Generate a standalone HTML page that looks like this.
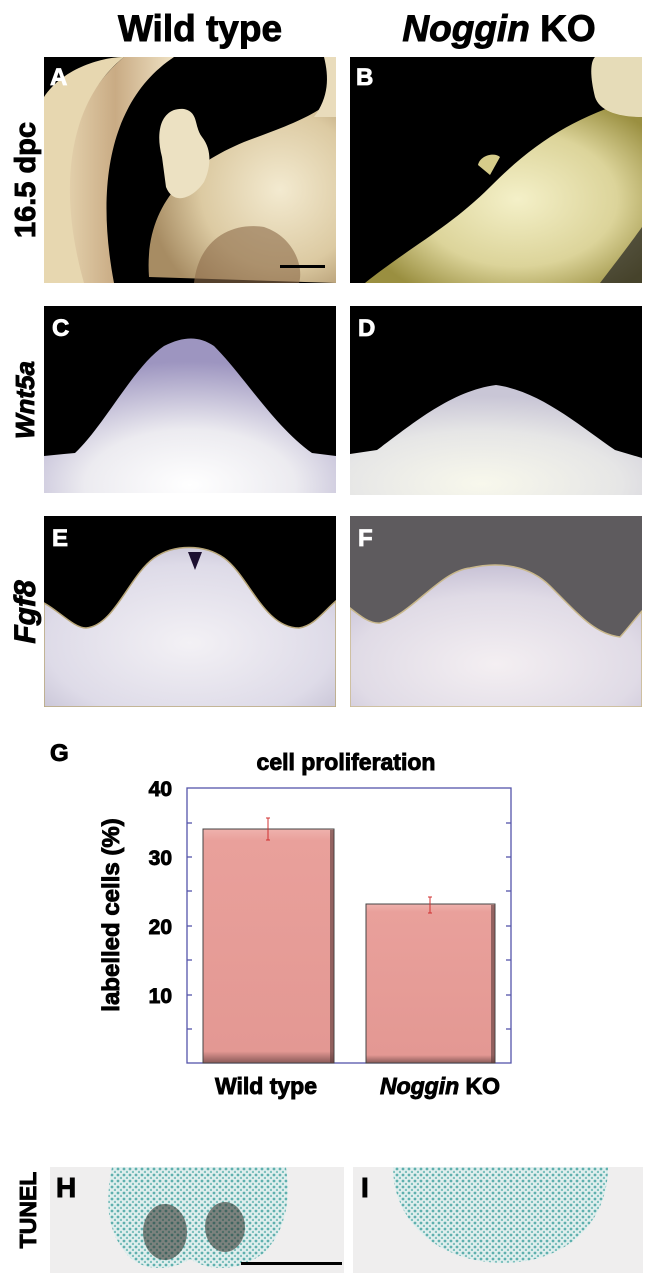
<!DOCTYPE html>
<html><head><meta charset="utf-8"><style>
html,body{margin:0;padding:0;background:#fff;}
svg{display:block;}
text{font-family:"Liberation Sans",Arial,sans-serif;font-weight:bold;}
.hv{stroke:#000;stroke-width:0.9;}
.hw{stroke:#fff;stroke-width:0.8;}
</style></head><body>
<svg width="649" height="1280" viewBox="0 0 649 1280" xmlns="http://www.w3.org/2000/svg">
<defs>
<radialGradient id="gA" cx="0.7" cy="0.5" r="0.7"><stop offset="0" stop-color="#f3ead0"/><stop offset="0.6" stop-color="#dccaa2"/><stop offset="1" stop-color="#a78c63"/></radialGradient>
<linearGradient id="band" x1="0" y1="0" x2="1" y2="0"><stop offset="0" stop-color="#e9d9b5"/><stop offset="0.5" stop-color="#c9ab84"/><stop offset="1" stop-color="#efe2c4"/></linearGradient>
<radialGradient id="gB" cx="0.55" cy="0.55" r="0.6"><stop offset="0" stop-color="#f4f0c8"/><stop offset="0.6" stop-color="#dcd49a"/><stop offset="1" stop-color="#9a8f40"/></radialGradient>
<radialGradient id="gC" cx="0.5" cy="0.95" r="0.8"><stop offset="0" stop-color="#ffffff"/><stop offset="0.45" stop-color="#ecebf0"/><stop offset="1" stop-color="#9d95c0"/></radialGradient>
<radialGradient id="gD" cx="0.45" cy="0.9" r="0.8"><stop offset="0" stop-color="#f8f8ec"/><stop offset="0.6" stop-color="#e6e6e6"/><stop offset="1" stop-color="#c9c6d6"/></radialGradient>
<radialGradient id="gE" cx="0.5" cy="0.6" r="0.7"><stop offset="0" stop-color="#f3f1f5"/><stop offset="0.7" stop-color="#dedbe8"/><stop offset="1" stop-color="#c3bfd2"/></radialGradient>
<radialGradient id="gF" cx="0.5" cy="0.7" r="0.7"><stop offset="0" stop-color="#f4eff2"/><stop offset="0.7" stop-color="#e0dbe6"/><stop offset="1" stop-color="#c8c2d6"/></radialGradient>
<linearGradient id="bar" x1="0" y1="0" x2="0" y2="1"><stop offset="0" stop-color="#efb2ad"/><stop offset="0.05" stop-color="#e9a09b"/><stop offset="0.95" stop-color="#e39893"/><stop offset="1" stop-color="#8a5a58"/></linearGradient>
<pattern id="cells" width="6" height="6" patternUnits="userSpaceOnUse"><rect width="6" height="6" fill="#dfeeed"/><circle cx="2" cy="2" r="1.4" fill="#5fb0ae"/><circle cx="5" cy="5" r="1.2" fill="#7cc0bd"/></pattern>
</defs>

<text class="hv" x="200" y="41" font-size="37" text-anchor="middle">Wild type</text>
<text class="hv" x="499" y="41" font-size="37" text-anchor="middle"><tspan font-style="italic">Noggin</tspan> KO</text>
<text class="hv" transform="translate(35,180) rotate(-90)" font-size="29" text-anchor="middle">16.5 dpc</text>
<text class="hv" transform="translate(34,400) rotate(-90)" font-size="26" font-style="italic" text-anchor="middle">Wnt5a</text>
<text class="hv" transform="translate(35,612) rotate(-90)" font-size="30" font-style="italic" text-anchor="middle">Fgf8</text>
<text class="hv" transform="translate(36,1210) rotate(-90)" font-size="23" text-anchor="middle">TUNEL</text>

<svg x="44" y="57" width="292" height="226" viewBox="0 0 292 226">
<rect width="292" height="226" fill="#000"/>
<path d="M80 0 L130 0 C70 40 50 120 70 226 L20 226 C0 150 20 50 80 0Z" fill="url(#band)"/>
<path d="M0 40 C20 10 60 0 80 0 C30 40 10 120 40 226 L0 226Z" fill="#e7d7b0"/>
<path d="M105 220 C100 150 140 110 200 85 C240 70 270 60 292 40 L292 226 Z" fill="url(#gA)"/>
<path d="M280 0 L292 0 L292 60 L270 60 C285 40 285 20 280 0Z" fill="#e9dcbc"/>
<path d="M118 100 C110 70 120 50 140 52 C155 55 150 70 158 80 C170 95 165 115 160 125 C150 140 130 150 122 130 Z" fill="#ece1c2"/>
<path d="M150 226 C155 180 190 165 220 170 C250 180 260 210 255 226Z" fill="#8c6b4a" opacity="0.6"/>
<rect x="236" y="208" width="45" height="3" fill="#000"/>
<text class="hw" x="6" y="28" font-size="24" fill="#fff">A</text>
</svg>

<svg x="350" y="57" width="292" height="226" viewBox="0 0 292 226">
<rect width="292" height="226" fill="#000"/>
<path d="M15 226 C60 190 100 170 140 130 C180 90 220 60 292 40 L292 226Z" fill="url(#gB)"/>
<path d="M245 0 L292 0 L292 60 C270 60 250 55 245 40 C240 20 240 5 245 0Z" fill="#e6dcb8"/>
<path d="M128 108 C130 98 145 95 150 100 L140 118 Z" fill="#d6cc8a"/>
<path d="M250 226 C270 200 285 180 292 170 L292 226Z" fill="#222" opacity="0.7"/>
<text class="hw" x="6" y="28" font-size="24" fill="#fff">B</text>
</svg>

<svg x="44" y="306" width="292" height="187" viewBox="0 0 292 187">
<rect width="292" height="187" fill="#000"/>
<path d="M0 187 L0 150 L20 148 L31 147 C60 120 90 60 120 40 C140 30 155 30 170 40 C200 70 230 120 268 147 L292 150 L292 187Z" fill="url(#gC)"/>
<text class="hw" x="8" y="30" font-size="24" fill="#fff">C</text>
</svg>

<svg x="350" y="306" width="292" height="189" viewBox="0 0 292 189">
<rect width="292" height="189" fill="#000"/>
<path d="M0 189 L0 148 L27 144 C60 120 100 85 146 79 C190 85 230 120 265 144 L292 152 L292 189Z" fill="url(#gD)"/>
<text class="hw" x="8" y="30" font-size="24" fill="#fff">D</text>
</svg>

<svg x="44" y="516" width="292" height="191" viewBox="0 0 292 191">
<rect width="292" height="191" fill="#000"/>
<path d="M0 191 L0 87 C15 95 30 112 42 112 C70 110 85 60 110 42 C130 28 160 28 180 42 C205 60 220 112 255 112 C270 110 280 95 292 85 L292 191Z" fill="url(#gE)" stroke="#b9a77a" stroke-width="1.5"/>
<path d="M144 36 L158 36 L151 54Z" fill="#1d1030"/>
<text class="hw" x="8" y="30" font-size="24" fill="#fff">E</text>
</svg>

<svg x="350" y="516" width="292" height="191" viewBox="0 0 292 191">
<rect width="292" height="191" fill="#5e5b5e"/>
<path d="M0 191 L0 92 C10 100 20 108 30 107 C60 100 90 55 120 52 C150 45 180 50 200 70 C230 100 245 118 270 121 C280 110 287 100 292 95 L292 191Z" fill="url(#gF)" stroke="#c9b88c" stroke-width="1.5"/>
<text class="hw" x="8" y="30" font-size="24" fill="#fff">F</text>
</svg>

<text class="hv" x="50" y="761" font-size="24">G</text>
<text class="hv" x="346" y="770" font-size="23" text-anchor="middle">cell proliferation</text>
<text class="hv" x="172" y="796" font-size="21" text-anchor="end">40</text>
<text class="hv" x="172" y="865" font-size="21" text-anchor="end">30</text>
<text class="hv" x="172" y="934" font-size="21" text-anchor="end">20</text>
<text class="hv" x="172" y="1003" font-size="21" text-anchor="end">10</text>
<text class="hv" transform="translate(119,915) rotate(-90)" font-size="24" text-anchor="middle">labelled cells (%)</text>
<rect x="187" y="788" width="324" height="275" fill="#fff" stroke="#5555aa" stroke-width="1.3"/>
<g stroke="#5555aa" stroke-width="1.3">
<line x1="187" y1="823" x2="192" y2="823"/><line x1="187" y1="857" x2="192" y2="857"/><line x1="187" y1="891" x2="192" y2="891"/><line x1="187" y1="926" x2="192" y2="926"/><line x1="187" y1="960" x2="192" y2="960"/><line x1="187" y1="995" x2="192" y2="995"/><line x1="187" y1="1029" x2="192" y2="1029"/>
<line x1="506" y1="823" x2="511" y2="823"/><line x1="506" y1="857" x2="511" y2="857"/><line x1="506" y1="891" x2="511" y2="891"/><line x1="506" y1="926" x2="511" y2="926"/><line x1="506" y1="960" x2="511" y2="960"/><line x1="506" y1="995" x2="511" y2="995"/><line x1="506" y1="1029" x2="511" y2="1029"/>
</g>
<rect x="203" y="829" width="131" height="234" fill="url(#bar)" stroke="#444" stroke-width="1"/>
<rect x="330" y="830" width="4" height="233" fill="#5a3a3a" opacity="0.6"/>
<rect x="366" y="904" width="129" height="159" fill="url(#bar)" stroke="#444" stroke-width="1"/>
<rect x="491" y="905" width="4" height="158" fill="#5a3a3a" opacity="0.6"/>
<g stroke="#d03030" stroke-width="1">
<line x1="268" y1="818" x2="268" y2="840"/><line x1="266" y1="818" x2="270" y2="818"/><line x1="266" y1="840" x2="270" y2="840"/>
<line x1="430" y1="897" x2="430" y2="913"/><line x1="428" y1="897" x2="432" y2="897"/><line x1="428" y1="913" x2="432" y2="913"/>
</g>
<text class="hv" x="266" y="1094" font-size="23" text-anchor="middle">Wild type</text>
<text class="hv" x="440" y="1094" font-size="23" text-anchor="middle"><tspan font-style="italic">Noggin</tspan> KO</text>

<svg x="50" y="1167" width="294" height="106" viewBox="0 0 294 106">
<rect width="294" height="106" fill="#efeeee"/>
<path d="M62 0 L236 0 C240 30 238 60 215 85 C190 105 160 105 140 92 C120 105 90 105 75 85 C55 60 56 30 62 0Z" fill="url(#cells)"/>
<ellipse cx="115" cy="65" rx="22" ry="28" fill="#2a2a22" opacity="0.55"/>
<ellipse cx="175" cy="60" rx="20" ry="25" fill="#2a2a22" opacity="0.55"/>
<rect x="191" y="95" width="101" height="3" fill="#000"/>
<text class="hv" x="6" y="30" font-size="28" fill="#000">H</text>
</svg>

<svg x="353" y="1167" width="290" height="106" viewBox="0 0 290 106">
<rect width="290" height="106" fill="#efeeee"/>
<path d="M40 0 L255 0 C255 50 220 95 150 96 C85 95 40 55 40 0Z" fill="url(#cells)"/>
<text class="hv" x="8" y="30" font-size="28" fill="#000">I</text>
</svg>
</svg>
</body></html>
